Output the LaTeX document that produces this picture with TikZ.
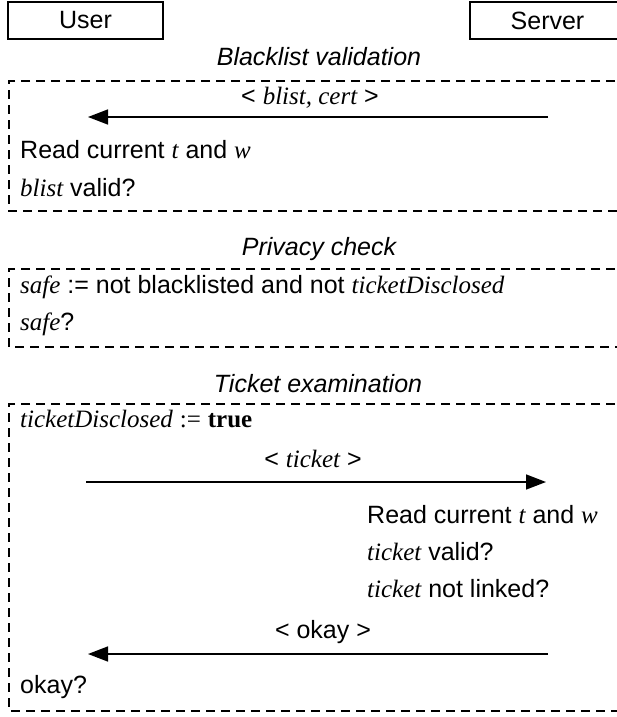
\documentclass[tikz,border=0pt]{standalone}
\usepackage{fontspec}
\setmainfont{Liberation Sans}
\newfontfamily\tmsfont{Liberation Serif}
\newcommand\vr[1]{{\tmsfont\itshape #1}}
\newcommand\bfw[1]{{\tmsfont\bfseries #1}}
\usetikzlibrary{arrows.meta}
\begin{document}
\begin{tikzpicture}[x=1pt,y=-1pt,
  txt/.style={inner sep=0pt, font=\fontsize{25}{30}\selectfont},
  lt/.style={txt, anchor=base west},
  ct/.style={txt, anchor=base},
  title/.style={inner sep=0pt, anchor=base, font=\fontsize{25}{30}\selectfont\itshape},
  actor/.style={draw, line width=1.2pt, inner sep=0pt, minimum width=155pt, minimum height=37pt, font=\fontsize{25}{30}\selectfont},
  frame/.style={draw, dash pattern=on 9pt off 6pt, line width=1.3pt},
  msg/.style={line width=1.5pt, -{Triangle[length=20pt,width=15pt]}}]
\useasboundingbox (0,0) rectangle (616,717);

% actors
\node[actor] (user) at (85.5,20.5) {User};
\node[actor] (server) at (547.5,20.5) {Server};

% Blacklist validation
\node[title] (t1) at (319,66) {Blacklist validation};
\draw[frame] (630,81) -- (9,81) -- (9,211) -- (630,211);
\node[ct] (m1) at (310,104) {< \vr{blist, cert} >};
\coordinate (a1s) at (548,117);
\coordinate (a1e) at (88,117);
\draw[msg] (a1s) -- (a1e);
\node[lt] (r1) at (20,158) {Read current \vr{t} and \vr{w}};
\node[lt] (b1) at (20,196) {\vr{blist} valid?};

% Privacy check
\node[title] (t2) at (319,255) {Privacy check};
\draw[frame] (630,269) -- (9,269) -- (9,347) -- (630,347);
\node[lt] (s1) at (20,293) {\vr{safe} := not blacklisted and not \vr{ticketDisclosed}};
\node[lt] (s2) at (20,330) {\vr{safe}?};

% Ticket examination
\node[title] (t3) at (318,392) {Ticket examination};
\draw[frame] (630,404) -- (9,404) -- (9,711) -- (630,711);
\node[lt] (k1) at (20,427) {\vr{ticketDisclosed} {\tmsfont :=} \bfw{true}};
\node[ct] (m2) at (313,467) {< \vr{ticket} >};
\coordinate (a2s) at (86,482);
\coordinate (a2e) at (546,482);
\draw[msg] (a2s) -- (a2e);
\node[lt] (r2) at (367,523) {Read current \vr{t} and \vr{w}};
\node[lt] (v2) at (367,560) {\vr{ticket} valid?};
\node[lt] (n2) at (367,597) {\vr{ticket} not linked?};
\node[ct] (m3) at (323,638) {< okay >};
\coordinate (a3s) at (548,654);
\coordinate (a3e) at (88,654);
\draw[msg] (a3s) -- (a3e);
\node[lt] (o3) at (20,693) {okay?};
\end{tikzpicture}
\end{document}
